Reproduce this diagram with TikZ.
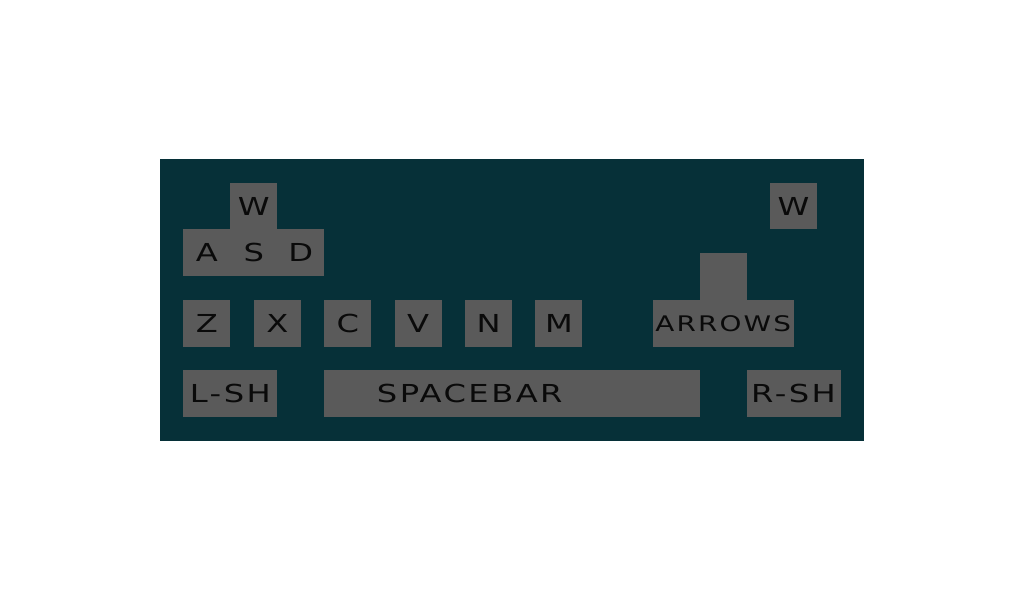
\documentclass[tikz,border=0pt]{standalone}
\usepackage{fontspec}
\setmainfont{DejaVu Sans}[FakeStretch=1.3,LetterSpace=10]
\definecolor{panel}{HTML}{063038}
\definecolor{keygrey}{HTML}{5A5A5A}
\definecolor{ink}{HTML}{0A0A0A}

\tikzset{
  key/.style={fill=keygrey, inner sep=0pt, minimum width=1cm, minimum height=1cm,
    text=ink, font=\fontsize{15}{15}\selectfont},
  keylabel/.style={inner sep=0pt, text=ink, font=\fontsize{15}{15}\selectfont}
}

\begin{document}
\begin{tikzpicture}[scale=1.0]

  \useasboundingbox (-3.41, 3.39) rectangle (18.41, -9.39);
  \fill[panel] (0, 0) rectangle (15, -6);

  \node[key] (wleft) at (2, -1) {W};
  \node[key] (akey) at (1, -2) {A};
  \node[key] (skey) at (2, -2) {S};
  \node[key] (dkey) at (3, -2) {D};

  \node[key] (zkey) at (1, -3.5) {Z};
  \node[key] (xkey) at (2.5, -3.5) {X};
  \node[key] (ckey) at (4, -3.5) {C};
  \node[key] (vkey) at (5.5, -3.5) {V};
  \node[key] (nkey) at (7, -3.5) {N};
  \node[key] (mkey) at (8.5, -3.5) {M};

  \node[key, minimum width=2cm] (lshift) at (1.5, -5) {L-SH};
  \node[key, minimum width=8cm] (space) at (7.5, -5) {};
  \node[keylabel] (spacetext) at (6.6, -5) {SPACEBAR};
  \node[key, minimum width=2cm] (rshift) at (13.5, -5) {R-SH};

  \node[key] (wright) at (13.5, -1) {W};
  \node[key] (upkey) at (12, -2.5) {};
  \node[key, minimum width=3cm, font=\fontsize{13}{13}\selectfont] (arrows) at (12, -3.5) {ARROWS};

\end{tikzpicture}
\end{document}
